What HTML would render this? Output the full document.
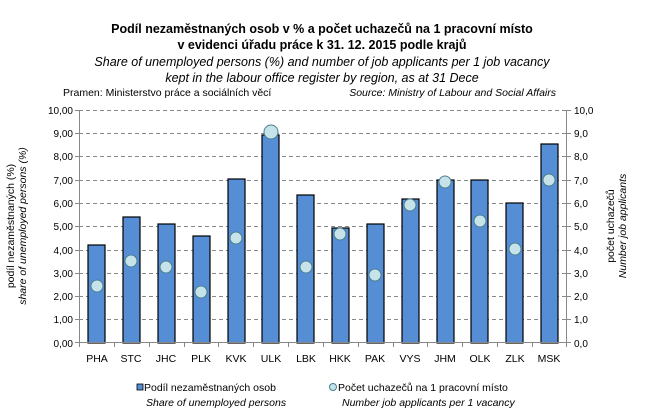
<!DOCTYPE html>
<html><head><meta charset="utf-8"><style>
body{margin:0;background:#fff;}
svg{display:block;font-family:"Liberation Sans",sans-serif;}
</style></head><body>
<svg width="645" height="418" xmlns="http://www.w3.org/2000/svg">
<rect width="645" height="418" fill="#fff"/>
<text x="322" y="33" font-size="12.5" font-weight="bold" text-anchor="middle">Podíl nezaměstnaných  osob v % a počet uchazečů  na 1 pracovní místo</text>
<text x="322" y="49" font-size="12.5" font-weight="bold" text-anchor="middle">v evidenci úřadu práce k 31. 12. 2015 podle krajů</text>
<text x="322" y="66" font-size="12.5" font-style="italic" text-anchor="middle">Share of unemployed persons (%) and number of job applicants per 1 job vacancy</text>
<text x="322" y="82" font-size="12.5" font-style="italic" text-anchor="middle">kept in the labour office register by region,  as at 31 Dece</text>
<text x="63" y="96" font-size="10.5">Pramen: Ministerstvo práce a sociálních věcí</text>
<text x="556" y="96" font-size="10.5" font-style="italic" text-anchor="end">Source: Ministry of Labour and Social Affairs</text>
<g stroke="#888" stroke-dasharray="4,3" stroke-width="1">
<line x1="79" x2="567" y1="110.5" y2="110.5"/><line x1="79" x2="567" y1="133.5" y2="133.5"/>
<line x1="79" x2="567" y1="156.5" y2="156.5"/><line x1="79" x2="567" y1="180.5" y2="180.5"/>
<line x1="79" x2="567" y1="203.5" y2="203.5"/><line x1="79" x2="567" y1="226.5" y2="226.5"/>
<line x1="79" x2="567" y1="250.5" y2="250.5"/><line x1="79" x2="567" y1="273.5" y2="273.5"/>
<line x1="79" x2="567" y1="296.5" y2="296.5"/><line x1="79" x2="567" y1="319.5" y2="319.5"/>
</g>
<g fill="#558ed5" stroke="#000" stroke-width="1.2">
<rect x="88" y="245" width="17" height="98"/>
<rect x="123" y="217" width="17" height="126"/>
<rect x="158" y="224" width="17" height="119"/>
<rect x="193" y="236" width="17" height="107"/>
<rect x="228" y="179" width="17" height="164"/>
<rect x="262" y="135" width="17" height="208"/>
<rect x="297" y="195" width="17" height="148"/>
<rect x="332" y="228" width="17" height="115"/>
<rect x="367" y="224" width="17" height="119"/>
<rect x="402" y="199" width="17" height="144"/>
<rect x="437" y="180" width="17" height="163"/>
<rect x="471" y="180" width="17" height="163"/>
<rect x="506" y="203" width="17" height="140"/>
<rect x="541" y="144" width="17" height="199"/>
</g>
<g stroke="#888" stroke-width="1">
<line x1="79.5" y1="110" x2="79.5" y2="343"/><line x1="566.5" y1="110" x2="566.5" y2="343"/>
<line x1="79" y1="342.5" x2="567" y2="342.5"/>
<path d="M114.5 343v4M149.5 343v4M184.5 343v4M218.5 343v4M253.5 343v4M288.5 343v4M323.5 343v4M358.5 343v4M393.5 343v4M427.5 343v4M462.5 343v4M497.5 343v4M532.5 343v4M79.5 343v4M566.5 343v4"/>
<path d="M75 110.5h4M75 133.5h4M75 156.5h4M75 180.5h4M75 203.5h4M75 226.5h4M75 250.5h4M75 273.5h4M75 296.5h4M75 319.5h4M75 342.5h4"/>
<path d="M567 110.5h4M567 133.5h4M567 156.5h4M567 180.5h4M567 203.5h4M567 226.5h4M567 250.5h4M567 273.5h4M567 296.5h4M567 319.5h4M567 342.5h4"/>
</g>
<g fill="#c6e3ea" stroke="#4a7f8f" stroke-width="1">
<circle cx="97" cy="286" r="6"/><circle cx="131" cy="261" r="6"/><circle cx="166" cy="267" r="6"/>
<circle cx="201" cy="292" r="6"/><circle cx="236" cy="238" r="6"/><circle cx="271" cy="132" r="7"/>
<circle cx="306" cy="267" r="6"/><circle cx="340" cy="234" r="6"/><circle cx="375" cy="275" r="6"/>
<circle cx="410" cy="205" r="6"/><circle cx="445" cy="182" r="6"/><circle cx="480" cy="221" r="6"/>
<circle cx="515" cy="249" r="6"/><circle cx="549" cy="180" r="6"/>
</g>
<g font-size="10" text-anchor="end" fill="#000">
<text x="73" y="114">10,00</text><text x="73" y="137">9,00</text><text x="73" y="160">8,00</text>
<text x="73" y="184">7,00</text><text x="73" y="207">6,00</text><text x="73" y="230">5,00</text>
<text x="73" y="254">4,00</text><text x="73" y="277">3,00</text><text x="73" y="300">2,00</text>
<text x="73" y="323">1,00</text><text x="73" y="347">0,00</text>
</g>
<g font-size="10" fill="#000">
<text x="574" y="114">10,0</text><text x="574" y="137">9,0</text><text x="574" y="160">8,0</text>
<text x="574" y="184">7,0</text><text x="574" y="207">6,0</text><text x="574" y="230">5,0</text>
<text x="574" y="254">4,0</text><text x="574" y="277">3,0</text><text x="574" y="300">2,0</text>
<text x="574" y="323">1,0</text><text x="574" y="347">0,0</text>
</g>
<g font-size="10.5" text-anchor="middle">
<text x="97" y="362">PHA</text><text x="131" y="362">STC</text><text x="166" y="362">JHC</text>
<text x="201" y="362">PLK</text><text x="236" y="362">KVK</text><text x="271" y="362">ULK</text>
<text x="306" y="362">LBK</text><text x="340" y="362">HKK</text><text x="375" y="362">PAK</text>
<text x="410" y="362">VYS</text><text x="445" y="362">JHM</text><text x="480" y="362">OLK</text>
<text x="515" y="362">ZLK</text><text x="549" y="362">MSK</text>
</g>
<text transform="translate(14,226) rotate(-90)" font-size="10.5" text-anchor="middle">podíl nezaměstnaných (%)</text>
<text transform="translate(26,226) rotate(-90)" font-size="10.5" font-style="italic" text-anchor="middle">share of unemployed persons  (%)</text>
<text transform="translate(614,226) rotate(-90)" font-size="10.5" text-anchor="middle">počet uchazečů</text>
<text transform="translate(626,226) rotate(-90)" font-size="10.5" font-style="italic" text-anchor="middle">Number job applicants</text>
<rect x="137" y="384" width="6" height="6" fill="#558ed5" stroke="#000" stroke-width="0.8"/>
<text x="144" y="391" font-size="10.5">Podíl nezaměstnaných osob</text>
<text x="146" y="406" font-size="10.5" font-style="italic">Share of unemployed persons</text>
<circle cx="333" cy="387" r="3.5" fill="#c6e3ea" stroke="#4a7f8f"/>
<text x="338" y="391" font-size="10.5">Počet uchazečů na 1 pracovní místo</text>
<text x="342" y="406" font-size="10.5" font-style="italic">Number job applicants per 1 vacancy</text>
</svg>
</body></html>
